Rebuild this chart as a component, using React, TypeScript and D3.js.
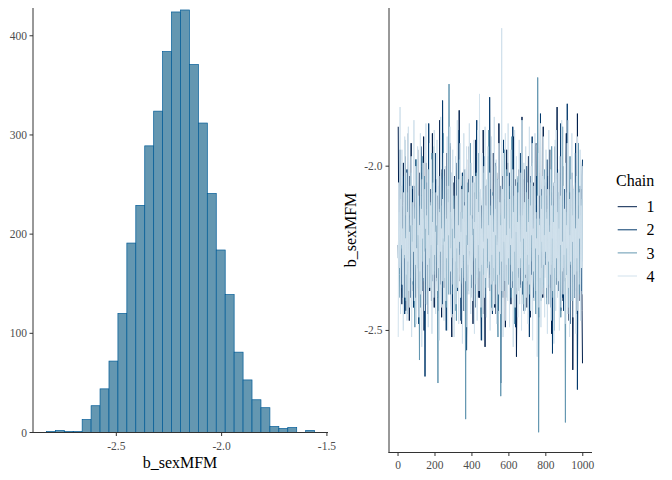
import React from "react";
import * as d3 from "d3";

// ---------- Histogram data (b_sexMFM posterior draws) ----------
const histBinStart = -2.832;
const histBinWidth = 0.04245;
const histCounts = [1, 2, 1, 1, 13, 27, 44, 72, 120, 191, 229, 289, 324, 384, 424, 426, 371, 312, 241, 184, 139, 81, 53, 33, 25, 6, 4, 5, 0, 2];
const histXTicks = [-2.5, -2.0, -1.5];
const histYTicks = [0, 100, 200, 300, 400];

// ---------- Trace data (thinned: every 2.5 iterations, 4 chains of 1000 iterations) ----------
const nIter = 1000;
const traceStep = 2.5;
const chain1 = [
  -1.88, -2.14, -2.05, -2.29, -2.31, -2.08, -2.18, -2.37, -2.42, -2.20, -2.12, -1.99, -2.27, -2.32, -1.97, -2.16, -2.21, -2.44, -2.36, -2.11,
  -2.09, -2.25, -2.24, -2.03, -2.47, -2.30, -2.15, -2.18, -1.93, -2.38, -2.22, -2.07, -2.33, -2.26, -2.06, -2.13, -2.19, -2.34, -2.40, -2.21,
  -2.11, -2.28, -1.95, -2.17, -2.28, -2.41, -2.17, -2.02, -2.35, -2.23, -2.02, -2.36, -2.25, -2.10, -2.14, -1.91, -2.50, -2.24, -2.20, -2.09,
  -1.99, -2.31, -2.30, -2.15, -2.13, -2.45, -2.23, -2.05, -2.38, -2.27, -2.07, -2.19, -2.26, -2.33, -1.90, -2.12, -2.16, -2.29, -2.43, -2.06,
  -2.21, -2.35, -2.04, -2.18, -2.34, -2.09, -2.12, -2.26, -2.29, -2.40, -1.86, -2.14, -2.18, -2.31, -2.46, -2.01, -2.10, -2.23, -2.24, -2.37,
  -2.01, -2.15, -2.32, -2.28, -2.15, -1.96, -2.39, -2.20, -2.08, -2.33, -2.27, -2.11, -1.94, -2.25, -2.20, -2.42, -2.52, -2.16, -2.13, -2.05,
  -2.26, -2.30, -2.03, -2.19, -2.19, -2.08, -2.41, -2.27, -2.09, -1.98, -2.30, -2.35, -1.83, -2.13, -2.22, -2.21, -2.35, -2.48, -2.06, -2.17,
  -2.17, -2.03, -2.44, -2.24, -2.11, -2.31, -2.28, -2.12, -1.98, -2.39, -2.24, -2.19, -2.37, -2.04, -2.14, -2.26, -2.05, -2.33, -2.31, -2.15,
  -2.19, -2.27, -2.48, -2.10, -2.08, -2.36, -2.25, -2.18, -1.92, -2.29, -2.33, -2.07, -2.16, -2.40, -2.02, -2.22, -2.40, -2.13, -2.21, -2.30,
  -2.12, -2.17, -2.29, -2.45, -1.89, -2.11, -2.23, -2.28, -2.55, -2.06, -2.10, -2.34, -2.27, -2.20, -2.04, -1.97, -2.34, -2.25, -2.18, -2.38,
  -2.07, -2.22, -2.36, -2.09, -2.22, -2.31, -1.96, -2.14, -2.30, -2.43, -2.14, -2.26, -2.45, -2.02, -2.09, -2.19, -2.26, -2.37, -1.87, -2.12,
  -2.20, -2.29, -2.38, -2.06, -2.13, -2.24, -2.03, -2.40, -2.32, -2.18, -2.17, -2.10, -2.49, -2.28, -2.11, -1.95, -2.24, -2.33, -1.99, -2.21,
  -2.28, -2.08, -2.15, -2.35, -2.42, -2.19, -2.06, -2.27, -2.21, -2.14, -1.91, -2.30, -2.35, -2.04, -2.19, -2.23, -2.58, -2.39, -2.12, -2.16,
  -2.27, -2.25, -2.01, -2.12, -2.31, -2.36, -2.16, -2.09, -1.85, -2.28, -2.23, -2.20, -2.39, -2.01, -2.08, -2.34, -2.25, -2.17, -2.14, -2.43,
  -2.33, -2.11, -1.97, -2.26, -2.20, -2.32, -2.46, -2.07, -2.10, -2.24, -2.29, -2.41, -2.05, -2.15, -2.37, -2.29, -2.18, -1.94, -1.93, -2.22,
  -2.26, -2.35, -2.12, -2.18, -2.43, -2.09, -2.22, -2.27, -2.02, -2.31, -2.30, -2.13, -2.15, -2.40, -1.88, -2.20, -2.34, -2.06, -2.21, -2.28,
  -2.09, -2.16, -2.40, -2.32, -2.17, -2.03, -2.27, -2.24, -1.95, -2.37, -2.24, -2.11, -2.51, -2.29, -2.13, -2.19, -2.32, -2.47, -2.06, -2.14,
  -2.19, -2.25, -2.36, -2.08, -1.82, -2.21, -2.22, -2.35, -2.28, -2.16, -2.11, -2.02, -2.44, -2.30, -2.16, -2.23, -2.00, -2.41, -2.25, -2.12,
  -2.35, -2.27, -2.14, -2.05, -1.90, -2.33, -2.29, -2.18, -2.20, -2.38, -2.47, -2.10, -2.08, -2.26, -2.31, -2.14, -2.17, -2.22, -2.62, -2.36,
  -2.23, -2.09, -2.04, -2.31, -2.38, -2.19, -2.12, -2.45, -1.84, -2.15, -2.26, -2.28, -2.19, -2.07, -2.41, -2.33, -2.07, -2.20, -2.44, -2.60,
];
const chain2 = [
  -2.24, -2.31, -2.10, -2.18, -1.95, -2.26, -2.37, -2.12, -2.16, -2.40, -2.29, -2.07, -2.03, -2.22, -2.45, -2.15, -2.19, -2.33, -2.11, -2.01,
  -2.33, -2.24, -1.90, -2.14, -2.22, -2.36, -2.40, -2.09, -2.13, -2.28, -2.27, -2.19, -2.06, -2.43, -2.35, -2.12, -2.18, -2.25, -1.98, -2.30,
  -2.31, -2.05, -2.14, -2.21, -2.48, -2.34, -2.09, -2.17, -2.25, -1.94, -2.00, -2.27, -2.38, -2.15, -2.20, -2.31, -2.12, -2.08, -2.64, -2.23,
  -2.28, -2.39, -2.05, -2.16, -2.17, -2.24, -1.87, -2.10, -2.34, -2.29, -2.23, -2.18, -2.41, -2.04, -2.08, -2.35, -2.26, -2.21, -2.15, -2.13,
  -1.96, -2.27, -2.30, -2.12, -2.19, -2.37, -2.44, -2.20, -2.11, -2.06, -2.36, -2.28, -2.02, -2.15, -2.24, -2.42, -1.80, -2.10, -2.21, -2.25,
  -2.32, -2.03, -2.13, -2.30, -2.50, -2.19, -2.18, -2.14, -2.07, -2.36, -2.28, -2.22, -1.93, -2.11, -2.39, -2.26, -2.16, -2.45, -2.25, -2.09,
  -2.10, -2.23, -2.42, -2.31, -2.20, -1.99, -2.04, -2.17, -2.33, -2.38, -2.14, -2.08, -1.89, -2.25, -2.27, -2.14, -2.47, -2.30, -2.12, -2.02,
  -2.23, -2.35, -2.01, -2.20, -2.35, -2.13, -2.18, -2.27, -2.56, -2.40, -2.09, -2.16, -2.30, -2.24, -1.94, -2.07, -2.22, -2.33, -2.37, -2.19,
  -2.15, -2.28, -2.03, -2.11, -2.29, -2.38, -2.43, -2.21, -2.11, -1.97, -1.86, -2.15, -2.25, -2.31, -2.34, -2.09, -2.08, -2.26, -2.20, -2.40,
  -2.53, -2.18, -2.13, -2.27, -2.31, -2.04, -1.97, -2.22, -2.24, -2.35, -2.40, -2.14, -2.06, -2.29, -2.27, -2.10, -2.17, -2.33, -1.79, -2.08,
  -2.32, -2.20, -2.21, -2.37, -2.45, -2.13, -2.10, -2.25, -2.26, -2.01, -1.99, -2.30, -2.36, -2.17, -2.15, -2.22, -2.04, -2.44, -2.29, -2.12,
  -2.19, -2.27, -2.66, -2.31, -2.12, -2.06, -2.34, -2.20, -1.92, -2.35, -2.23, -2.14, -2.38, -2.28, -2.07, -2.19, -2.28, -2.02, -2.14, -2.32,
  -2.02, -2.16, -2.41, -2.26, -2.18, -2.09, -2.30, -2.37, -1.88, -2.21, -2.25, -2.13, -2.11, -2.42, -2.49, -2.18, -2.20, -2.27, -2.05, -2.34,
  -2.33, -2.10, -2.16, -2.29, -1.96, -2.23, -2.37, -2.15, -2.22, -2.39, -2.09, -2.04, -2.44, -2.31, -2.27, -2.17, -2.13, -2.26, -2.00, -2.36,
  -2.35, -2.12, -2.19, -2.28, -2.52, -2.21, -2.08, -2.03, -2.24, -2.33, -1.91, -2.18, -2.31, -2.40, -2.17, -2.11, -2.39, -2.24, -2.12, -2.29,
  -2.03, -2.20, -2.28, -2.38, -2.46, -2.13, -2.15, -2.25, -1.84, -2.30, -2.26, -2.07, -2.21, -2.35, -2.36, -2.16, -2.10, -2.27, -2.30, -2.05,
  -2.18, -2.34, -1.98, -2.12, -2.42, -2.26, -2.23, -2.19, -2.09, -2.31, -2.34, -2.43, -2.14, -2.08, -2.57, -2.22, -2.27, -2.15, -2.05, -2.36,
  -1.94, -2.18, -2.31, -2.28, -2.20, -2.01, -2.38, -2.24, -2.11, -2.33, -2.25, -2.17, -1.87, -2.29, -2.33, -2.40, -2.16, -2.10, -2.44, -2.23,
  -2.07, -2.32, -2.29, -2.14, -2.19, -2.25, -1.81, -2.06, -2.36, -2.41, -2.13, -2.20, -2.48, -2.28, -2.22, -2.11, -2.02, -2.37, -2.31, -2.16,
  -2.17, -2.24, -2.40, -2.09, -1.93, -2.30, -2.26, -2.19, -2.68, -2.35, -2.12, -2.21, -2.34, -2.13, -2.06, -2.27, -2.24, -2.38, -2.03, -1.98,
];
const chain3 = [
  -2.28, -2.19, -2.14, -2.33, -2.40, -2.10, -2.06, -2.25, -2.23, -2.36, -2.33, -2.15, -2.11, -2.28, -1.92, -2.20, -2.26, -2.41, -2.19, -2.08,
  -2.45, -2.22, -2.09, -2.17, -2.30, -2.34, -2.17, -2.05, -2.02, -2.27, -2.36, -2.18, -2.21, -2.12, -2.13, -2.38, -2.49, -2.24, -2.24, -1.98,
  -2.07, -2.31, -2.31, -2.14, -2.18, -2.26, -2.59, -2.20, -2.12, -2.43, -2.27, -2.09, -1.97, -2.29, -2.22, -2.16, -2.35, -2.03, -2.10, -2.25,
  -2.20, -2.34, -2.42, -2.13, -2.15, -2.21, -2.01, -2.37, -2.29, -2.11, -2.19, -2.27, -2.38, -1.96, -2.08, -2.24, -2.25, -2.32, -1.94, -2.18,
  -2.33, -2.23, -2.16, -2.08, -2.28, -2.40, -2.66, -2.15, -2.13, -2.27, -2.21, -2.19, -2.04, -2.30, -2.37, -2.12, -2.18, -2.24, -1.90, -2.35,
  -2.26, -2.20, -2.11, -2.06, -2.43, -2.29, -2.20, -2.16, -2.07, -2.39, -1.75, -2.32, -2.30, -2.14, -2.15, -2.25, -2.39, -2.02, -2.23, -2.28,
  -2.09, -2.17, -2.32, -2.44, -2.19, -2.13, -2.47, -2.24, -2.12, -2.31, -2.26, -2.18, -1.98, -2.08, -2.22, -2.36, -2.35, -2.21, -2.14, -2.27,
  -2.03, -2.11, -2.29, -2.34, -2.17, -2.26, -2.77, -2.19, -2.24, -2.05, -2.10, -2.30, -2.38, -2.22, -2.20, -2.13, -1.93, -2.40, -2.31, -2.16,
  -2.16, -2.29, -2.27, -2.09, -2.05, -2.23, -2.41, -2.35, -2.21, -2.02, -2.13, -2.25, -2.34, -2.18, -1.96, -2.31, -2.25, -2.14, -2.18, -2.42,
  -2.46, -2.20, -2.11, -2.07, -2.28, -2.33, -2.02, -2.26, -2.37, -2.12, -2.22, -2.39, -2.15, -2.04, -2.31, -2.24, -1.89, -2.19, -2.24, -2.30,
  -2.19, -2.12, -2.43, -2.27, -2.08, -2.35, -2.29, -2.16, -2.14, -2.05, -2.36, -2.21, -2.00, -2.28, -2.23, -2.44, -2.52, -2.10, -2.17, -2.33,
  -2.26, -2.15, -2.70, -2.07, -2.09, -2.29, -2.20, -2.38, -2.32, -2.14, -1.95, -2.22, -2.27, -2.30, -2.12, -2.01, -2.40, -2.25, -2.18, -2.36,
  -2.06, -2.23, -2.30, -2.13, -2.21, -2.40, -1.91, -2.19, -2.35, -2.27, -2.15, -2.09, -2.48, -2.32, -2.24, -2.17, -2.10, -2.37, -2.28, -2.04,
  -2.03, -2.26, -2.38, -2.15, -2.19, -2.31, -2.26, -2.07, -1.86, -2.24, -2.33, -2.42, -2.13, -2.20, -2.44, -2.11, -2.22, -2.28, -2.08, -2.18,
  -2.31, -2.35, -2.17, -2.10, -2.39, -2.23, -2.05, -2.29, -2.25, -2.14, -1.99, -2.37, -2.34, -2.21, -2.20, -2.06, -2.12, -2.32, -2.45, -2.16,
  -2.27, -2.24, -1.73, -2.12, -2.81, -2.34, -2.16, -2.19, -2.30, -2.41, -2.09, -2.26, -2.23, -2.11, -2.37, -2.04, -2.01, -2.30, -2.28, -2.21,
  -2.14, -2.27, -2.42, -2.13, -2.20, -2.36, -2.07, -2.24, -2.33, -2.18, -2.18, -2.30, -1.94, -2.09, -2.29, -2.40, -2.12, -2.23, -2.50, -2.15,
  -2.24, -2.34, -2.04, -2.19, -2.36, -2.26, -2.19, -2.08, -2.27, -2.32, -2.10, -2.21, -2.46, -2.38, -2.22, -2.12, -1.88, -2.25, -2.31, -2.17,
  -2.16, -2.29, -2.78, -2.14, -2.25, -2.33, -2.08, -2.21, -2.34, -2.43, -2.19, -2.11, -1.97, -2.26, -2.30, -2.18, -2.13, -2.35, -2.41, -2.07,
  -2.22, -2.28, -2.05, -2.17, -2.37, -2.23, -2.18, -2.32, -2.27, -2.09, -1.93, -2.24, -2.32, -2.39, -2.15, -2.20, -2.24, -2.13, -2.10, -2.29,
];
const chain4 = [
  -2.52, -2.05, -2.31, -2.17, -1.82, -2.45, -2.10, -2.24, -1.95, -2.36, -2.19, -2.50, -2.08, -2.27, -1.91, -2.40, -2.22, -2.33, -2.02, -2.47,
  -2.14, -2.29, -1.88, -2.38, -2.20, -2.43, -2.06, -2.18, -1.97, -2.52, -2.23, -2.35, -2.11, -2.26, -1.86, -2.41, -2.16, -2.30, -2.00, -2.48,
  -2.25, -2.37, -1.94, -2.21, -2.09, -2.46, -2.18, -2.32, -1.90, -2.39, -2.13, -2.55, -2.04, -2.22, -1.99, -2.34, -2.26, -2.44, -2.07, -2.19,
  -1.87, -2.42, -2.15, -2.30, -2.01, -2.49, -2.21, -2.28, -1.93, -2.37, -2.12, -2.24, -1.98, -2.51, -2.17, -2.33, -2.05, -2.40, -1.89, -2.27,
  -2.20, -2.45, -2.08, -2.18, -1.92, -2.38, -2.24, -2.31, -2.03, -2.53, -2.14, -2.26, -1.85, -2.43, -2.19, -2.35, -2.10, -2.22, -1.96, -2.47,
  -2.23, -2.34, -2.00, -2.41, -2.16, -2.28, -1.91, -2.50, -2.11, -2.21, -2.06, -2.39, -1.88, -2.32, -2.25, -2.46, -2.02, -2.19, -1.95, -2.36,
  -2.13, -2.52, -2.22, -2.29, -1.97, -2.42, -2.09, -2.25, -1.86, -2.37, -2.18, -2.48, -2.04, -2.23, -1.93, -2.40, -2.20, -2.31, -2.07, -2.54,
  -2.16, -2.27, -1.90, -2.44, -2.12, -2.35, -2.01, -2.21, -1.94, -2.49, -2.24, -2.30, -2.08, -2.39, -1.87, -2.26, -2.15, -2.45, -1.99, -2.33,
  -2.21, -2.41, -2.05, -2.19, -1.92, -2.51, -2.17, -2.28, -2.03, -2.36, -2.10, -2.47, -1.89, -2.24, -2.14, -2.38, -1.78, -2.32, -2.07, -2.43,
  -2.19, -2.30, -1.96, -2.53, -2.23, -2.25, -2.00, -2.40, -1.88, -2.34, -2.12, -2.46, -2.06, -2.22, -1.94, -2.37, -2.18, -2.29, -2.02, -2.50,
  -2.15, -2.36, -1.91, -2.27, -2.09, -2.44, -2.20, -2.31, -1.85, -2.42, -2.13, -2.21, -1.98, -2.48, -2.24, -2.33, -2.04, -2.39, -1.93, -2.26,
  -2.11, -2.45, -2.18, -2.29, -1.58, -2.38, -2.07, -2.52, -1.96, -2.23, -2.16, -2.35, -1.90, -2.47, -2.21, -2.30, -2.03, -2.41, -1.87, -2.28,
  -2.19, -2.49, -2.10, -2.24, -1.95, -2.37, -2.22, -2.32, -2.01, -2.55, -2.14, -2.26, -1.89, -2.43, -2.06, -2.20, -1.97, -2.39, -2.17, -2.46,
  -2.08, -2.31, -1.92, -2.42, -2.23, -2.28, -2.02, -2.50, -1.86, -2.35, -2.15, -2.22, -1.99, -2.45, -2.11, -2.33, -1.94, -2.40, -2.20, -2.27,
  -2.05, -2.48, -2.17, -2.30, -1.88, -2.36, -2.12, -2.44, -2.00, -2.21, -1.93, -2.53, -2.19, -2.32, -2.06, -2.41, -1.90, -2.25, -2.14, -2.38,
  -2.22, -2.58, -2.09, -2.27, -1.96, -2.43, -2.18, -2.34, -1.87, -2.49, -2.13, -2.23, -2.03, -2.39, -1.91, -2.30, -2.21, -2.46, -2.04, -2.26,
  -1.95, -2.37, -2.16, -2.51, -2.07, -2.29, -1.89, -2.42, -2.20, -2.33, -2.01, -2.47, -2.12, -2.22, -1.94, -2.38, -2.17, -2.54, -2.05, -2.31,
  -1.92, -2.44, -1.89, -2.28, -2.14, -2.40, -2.02, -2.35, -2.19, -2.50, -1.97, -2.24, -2.09, -2.43, -1.86, -2.32, -2.23, -2.39, -2.06, -2.27,
  -2.13, -2.48, -1.99, -2.34, -2.18, -2.25, -1.93, -2.45, -1.86, -2.37, -2.10, -2.52, -2.21, -2.29, -2.04, -2.41, -1.90, -2.23, -2.15, -2.46,
  -2.07, -2.33, -1.96, -2.40, -2.19, -2.51, -2.03, -2.28, -1.91, -2.44, -2.16, -2.36, -2.08, -2.22, -1.95, -2.47, -2.12, -2.31, -2.00, -2.39,
];
const chainNames = ["1", "2", "3", "4"];
const chainColors = ["#011f4b", "#03396c", "#6497b1", "#d1e1ec"];
const traceXTicks = [0, 200, 400, 600, 800, 1000];
const traceYTicks = [-2.0, -2.5];
const paramName = "b_sexMFM";

const FONT = "'Liberation Serif', 'Times New Roman', Times, 'DejaVu Serif', serif";
const AXIS_COL = "#333333";
const TICK_TXT = "#4d4d4d";

export default function App() {
  // ---------- Left: histogram ----------
  const hx0 = histBinStart;
  const hx1 = histBinStart + histBinWidth * histCounts.length;
  const hpad = (hx1 - hx0) * 0.05;
  const hX = d3.scaleLinear().domain([hx0 - hpad, hx1 + hpad]).range([33, 328]);
  const hY = d3.scaleLinear().domain([0, 428]).range([432.5, 8]);
  const bins = histCounts.map((c, i) => ({
    x0: histBinStart + i * histBinWidth,
    x1: histBinStart + (i + 1) * histBinWidth,
    c,
  }));

  // ---------- Right: trace ----------
  const chains = [chain1, chain2, chain3, chain4];
  const allVals = chains.flat();
  const ymin = d3.min(allVals) as number;
  const ymax = d3.max(allVals) as number;
  const ypad = (ymax - ymin) * 0.05;
  const xpad = (nIter - 1) * 0.05;
  const tX = d3.scaleLinear().domain([1 - xpad, nIter + xpad]).range([389, 592]);
  const tY = d3.scaleLinear().domain([ymin - ypad, ymax + ypad]).range([452.5, 8]);
  const line = d3
    .line<number>()
    .x((_, i) => tX(1 + i * traceStep))
    .y((d) => tY(d));

  const txt = { fontFamily: FONT };

  return (
    <svg
      width={672}
      height={480}
      style={{ position: "absolute", left: 0, top: 0, background: "#fff", fontFamily: FONT }}
    >
      {/* Histogram bars */}
      <g>
        {bins.map((b, i) =>
          b.c > 0 ? (
            <rect
              key={i}
              x={hX(b.x0)}
              y={hY(b.c)}
              width={hX(b.x1) - hX(b.x0)}
              height={hY(0) - hY(b.c)}
              fill="#6497b1"
              stroke="#005b96"
              strokeWidth={0.7}
            />
          ) : null
        )}
      </g>
      {/* Histogram axes */}
      <line x1={33} x2={33} y1={8} y2={433} stroke={AXIS_COL} strokeWidth={1} />
      <line x1={32.5} x2={328} y1={432.5} y2={432.5} stroke={AXIS_COL} strokeWidth={1} />
      {histYTicks.map((t) => (
        <g key={t}>
          <line x1={29.5} x2={33} y1={hY(t)} y2={hY(t)} stroke={AXIS_COL} strokeWidth={1} />
          <text x={27} y={hY(t)} dy="0.35em" textAnchor="end" fontSize={11.5} fill={TICK_TXT} style={txt}>
            {t}
          </text>
        </g>
      ))}
      {histXTicks.map((t) => (
        <g key={t}>
          <line x1={hX(t)} x2={hX(t)} y1={432.5} y2={436} stroke={AXIS_COL} strokeWidth={1} />
          <text x={hX(t)} y={450} textAnchor="middle" fontSize={11.5} fill={TICK_TXT} style={txt}>
            {t.toFixed(1)}
          </text>
        </g>
      ))}
      <text x={180} y={468} textAnchor="middle" fontSize={16} fill="#000" style={txt}>
        {paramName}
      </text>

      {/* Trace lines */}
      <g fill="none" strokeWidth={1}>
        {chains.map((c, k) => (
          <path key={k} d={line(c) || ""} stroke={chainColors[k]} />
        ))}
      </g>
      {/* Trace axes */}
      <line x1={389} x2={389} y1={8} y2={453} stroke={AXIS_COL} strokeWidth={1} />
      <line x1={388.5} x2={592} y1={452.5} y2={452.5} stroke={AXIS_COL} strokeWidth={1} />
      {traceYTicks.map((t) => (
        <g key={t}>
          <line x1={385.5} x2={389} y1={tY(t)} y2={tY(t)} stroke={AXIS_COL} strokeWidth={1} />
          <text x={382.5} y={tY(t)} dy="0.35em" textAnchor="end" fontSize={11.5} fill={TICK_TXT} style={txt}>
            {t.toFixed(1)}
          </text>
        </g>
      ))}
      {traceXTicks.map((t) => (
        <g key={t}>
          <line x1={tX(t)} x2={tX(t)} y1={452.5} y2={456} stroke={AXIS_COL} strokeWidth={1} />
          <text x={tX(t)} y={469} textAnchor="middle" fontSize={11.5} fill={TICK_TXT} style={txt}>
            {t}
          </text>
        </g>
      ))}
      <text
        transform="translate(355.5,230) rotate(-90)"
        textAnchor="middle"
        fontSize={16}
        fill="#000"
        style={txt}
      >
        {paramName}
      </text>

      {/* Legend */}
      <text x={616} y={186} fontSize={16} fill="#000" style={txt}>
        Chain
      </text>
      {chainNames.map((n, k) => {
        const y = 206.7 + k * 23.1;
        return (
          <g key={n}>
            <line x1={617.7} x2={637} y1={y} y2={y} stroke={chainColors[k]} strokeWidth={1} />
            <text x={646.5} y={y} dy="0.35em" fontSize={16} fill="#000" style={txt}>
              {n}
            </text>
          </g>
        );
      })}
    </svg>
  );
}
